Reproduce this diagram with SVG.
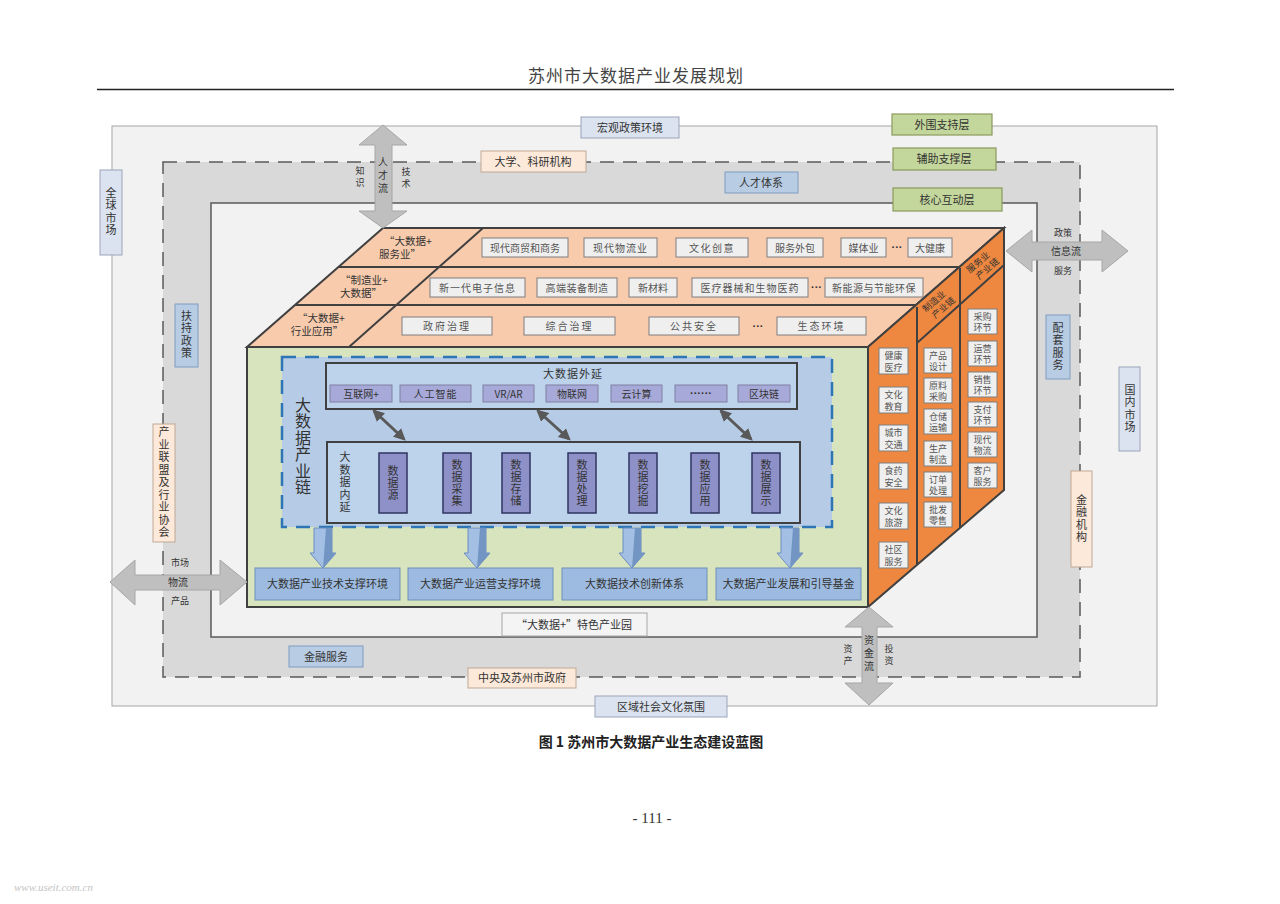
<svg xmlns="http://www.w3.org/2000/svg" width="1280" height="904" viewBox="0 0 1280 904">
<style>
text{font-family:"Noto Sans CJK SC","Noto Sans CJK JP",sans-serif;fill:#333;}
.c{text-anchor:middle;}
.s11{font-size:11px;}
.s10{font-size:10px;}
.s9{font-size:9px;}
.dots{font-family:"Liberation Sans",sans-serif;font-size:11px;font-weight:bold;}
.v{writing-mode:vertical-rl;text-anchor:middle;font-size:11px;letter-spacing:1.5px;}
.blue{fill:#b8cce4;stroke:#7f9cc0;stroke-width:1;}
.lav{fill:#dce3f0;stroke:#9aa3b8;stroke-width:1;}
.peach{fill:#fde9d9;stroke:#bfa896;stroke-width:1;}
.green{fill:#c3d69b;stroke:#8a9a5b;stroke-width:1.2;}
.gbox{fill:#efefef;stroke:#7f7f7f;stroke-width:1;}
.gtxt{fill:#555;}
.dark{stroke:#404040;stroke-width:2;}
.flow{fill:#bfbfbf;stroke:#a6a6a6;stroke-width:1;}
.ext{fill:#a7a9d8;stroke:#7f809f;stroke-width:1;}
.intr{fill:#8e90c8;stroke:#2f3560;stroke-width:1.5;}
.bot{fill:#9dbbe0;stroke:#6f8fb8;stroke-width:1;}
.barrow{fill:#a3c0e4;stroke:#6c8ebf;stroke-width:1;}
.bshade{fill:#7295c4;}
.dbl{stroke:#595959;stroke-width:3;fill:none;marker-start:url(#ah);marker-end:url(#ah);}
</style>
<defs>
<marker id="ah" viewBox="0 0 10 10" refX="8" refY="5" markerWidth="4" markerHeight="4" orient="auto-start-reverse" markerUnits="strokeWidth">
<path d="M0,0 L10,5 L0,10 Z" fill="#595959"/>
</marker>
</defs>
<rect width="1280" height="904" fill="#ffffff"/>

<g id="header">
<text x="636" y="82" class="c" style="font-size:17px;letter-spacing:1px;fill:#444">苏州市大数据产业发展规划</text>
<line x1="97" y1="89.5" x2="1174" y2="89.5" stroke="#222" stroke-width="1.5"/>
</g>

<g id="layers">
<rect x="112" y="126" width="1045" height="580" fill="#f2f2f2" stroke="#a6a6a6" stroke-width="1"/>
<rect x="163" y="162" width="917" height="515" fill="#d9d9d9" stroke="#595959" stroke-width="1.5" stroke-dasharray="14 9"/>
<rect x="211" y="203" width="826" height="434" fill="#f2f2f2" stroke="#595959" stroke-width="1.5"/>
</g>

<g id="legend">
<g id="legend-outer"><rect x="892" y="114" width="100" height="21" class="green"/><text x="942" y="129" class="c s11">外围支持层</text></g>
<g id="legend-aux"><rect x="893" y="148" width="103" height="22" class="green"/><text x="944" y="163" class="c s11">辅助支撑层</text></g>
<g id="legend-core"><rect x="893" y="188" width="109" height="23" class="green"/><text x="947" y="204" class="c s11">核心互动层</text></g>
</g>

<g id="outer-labels">
<g id="macro"><rect x="581" y="117" width="98" height="21" class="lav"/><text x="630" y="132" class="c s11">宏观政策环境</text></g>
<g id="global-market"><rect x="100" y="170" width="22" height="85" class="lav"/><text x="111" y="212" class="v">全球市场</text></g>
<g id="domestic-market"><rect x="1119" y="367" width="21" height="84" class="lav"/><text x="1130" y="409" class="v">国内市场</text></g>
<g id="regional-culture"><rect x="595" y="696" width="132" height="21" class="lav"/><text x="661" y="711" class="c s11">区域社会文化氛围</text></g>
</g>

<g id="middle-labels">
<g id="university"><rect x="481" y="151" width="105" height="21" class="peach"/><text x="533" y="166" class="c s11">大学、科研机构</text></g>
<g id="talent"><rect x="725" y="172" width="73" height="21" class="blue"/><text x="761" y="187" class="c s11">人才体系</text></g>
<g id="policy-support"><rect x="175" y="304" width="23" height="63" class="blue"/><text x="186.5" y="335" class="v">扶持政策</text></g>
<g id="supporting-service"><rect x="1046" y="315" width="24" height="64" class="blue"/><text x="1058" y="347" class="v">配套服务</text></g>
<g id="finance-service"><rect x="289" y="646" width="74" height="21" class="blue"/><text x="326" y="661" class="c s11">金融服务</text></g>
<g id="alliance"><rect x="153" y="424" width="22" height="118" class="peach"/><text x="164" y="483" class="v">产业联盟及行业协会</text></g>
<g id="finance-inst"><rect x="1071" y="471" width="21" height="96" class="peach"/><text x="1081.5" y="519" class="v">金融机构</text></g>
<g id="government"><rect x="468" y="668" width="108" height="20" class="peach"/><text x="522" y="682" class="c s11">中央及苏州市政府</text></g>
<g id="park"><rect x="502" y="613" width="145" height="23" fill="#f4f4f4" stroke="#a6a6a6" stroke-width="1"/><text x="574" y="629" class="c s11">“大数据+”特色产业园</text></g>
</g>

<g id="cube">
<polygon id="top-face" points="247,347 383,228 1004,228 868,347" fill="#f8cbad" class="dark"/>
<polygon id="right-face" points="868,347 1004,228 1004,490 868,607" fill="#ee8840" class="dark"/>
<rect id="front-face" x="247" y="347" width="621" height="260" fill="#d7e4bd" class="dark"/>
<line x1="338" y1="267" x2="959" y2="267" class="dark"/>
<line x1="295" y1="305" x2="916" y2="305" class="dark"/>
<line x1="483" y1="228" x2="349" y2="347" class="dark"/>
<line x1="917" y1="307" x2="917" y2="565" class="dark"/>
<line x1="960" y1="268" x2="960" y2="528" class="dark"/>
<line x1="917" y1="343" x2="1004" y2="265" class="dark"/>
</g>

<g id="row-labels">
<g id="row-service"><text x="408" y="245" class="c" style="font-size:10.5px">“大数据+</text><text x="400" y="258" class="c" style="font-size:10.5px">服务业”</text></g>
<g id="row-manufacture"><text x="364" y="284" class="c" style="font-size:10.5px">“制造业+</text><text x="361" y="297" class="c" style="font-size:10.5px">大数据”</text></g>
<g id="row-industry"><text x="321" y="322" class="c" style="font-size:10.5px">“大数据+</text><text x="317" y="335" class="c" style="font-size:10.5px">行业应用”</text></g>
</g>

<g id="row1-items">
<g id="r1a"><rect x="482" y="238" width="86" height="19" class="gbox"/><text x="525" y="251.5" class="c s10 gtxt">现代商贸和商务</text></g>
<g id="r1b"><rect x="584" y="238" width="73" height="19" class="gbox"/><text x="620.5" y="251.5" class="c s10 gtxt" style="letter-spacing:1px">现代物流业</text></g>
<g id="r1c"><rect x="676" y="238" width="72" height="19" class="gbox"/><text x="712" y="251.5" class="c s10 gtxt" style="letter-spacing:1.5px">文化创意</text></g>
<g id="r1d"><rect x="767" y="238" width="56" height="19" class="gbox"/><text x="795" y="251.5" class="c s10 gtxt">服务外包</text></g>
<g id="r1e"><rect x="841" y="238" width="45" height="19" class="gbox"/><text x="863.5" y="251.5" class="c s10 gtxt">媒体业</text></g>
<text x="897" y="251" class="c dots">···</text>
<g id="r1f"><rect x="908" y="238" width="44" height="19" class="gbox"/><text x="930" y="251.5" class="c s10 gtxt">大健康</text></g>
</g>

<g id="row2-items">
<g id="r2a"><rect x="430" y="278" width="95" height="19" class="gbox"/><text x="477.5" y="291.5" class="c s10 gtxt" style="letter-spacing:1px">新一代电子信息</text></g>
<g id="r2b"><rect x="537" y="278" width="80" height="19" class="gbox"/><text x="577" y="291.5" class="c s10 gtxt" style="letter-spacing:0.5px">高端装备制造</text></g>
<g id="r2c"><rect x="629" y="278" width="48" height="19" class="gbox"/><text x="653" y="291.5" class="c s10 gtxt">新材料</text></g>
<g id="r2d"><rect x="692" y="278" width="116" height="19" class="gbox"/><text x="750" y="291.5" class="c s10 gtxt" style="letter-spacing:1px">医疗器械和生物医药</text></g>
<text x="816.5" y="291" class="c dots">···</text>
<g id="r2e"><rect x="825" y="278" width="98" height="19" class="gbox"/><text x="874" y="291.5" class="c s10 gtxt" style="letter-spacing:0.5px">新能源与节能环保</text></g>
</g>

<g id="row3-items">
<g id="r3a"><rect x="402" y="317" width="90" height="18" class="gbox"/><text x="447" y="330" class="c s10 gtxt" style="letter-spacing:2px">政府治理</text></g>
<g id="r3b"><rect x="524" y="317" width="91" height="18" class="gbox"/><text x="569.5" y="330" class="c s10 gtxt" style="letter-spacing:2px">综合治理</text></g>
<g id="r3c"><rect x="649" y="317" width="90" height="18" class="gbox"/><text x="694" y="330" class="c s10 gtxt" style="letter-spacing:2px">公共安全</text></g>
<text x="758" y="330" class="c dots">···</text>
<g id="r3d"><rect x="777" y="317" width="89" height="18" class="gbox"/><text x="821.5" y="330" class="c s10 gtxt" style="letter-spacing:2px">生态环境</text></g>
</g>

<g id="chain-labels">
<g id="mfg-chain" transform="translate(938,306) rotate(-41)"><text x="0" y="-3" class="c s9">制造业</text><text x="3" y="8" class="c s9">产业链</text></g>
<g id="svc-chain" transform="translate(982,267) rotate(-41)"><text x="0" y="-3" class="c s9">服务业</text><text x="3" y="8" class="c s9">产业链</text></g>
</g>

<g id="strip1-items">
<g><rect x="879" y="348" width="29" height="26" class="gbox"/><text x="893.5" y="359" class="c s9 gtxt">健康</text><text x="893.5" y="371" class="c s9 gtxt">医疗</text></g>
<g><rect x="879" y="387" width="29" height="26" class="gbox"/><text x="893.5" y="398" class="c s9 gtxt">文化</text><text x="893.5" y="410" class="c s9 gtxt">教育</text></g>
<g><rect x="879" y="425" width="29" height="26" class="gbox"/><text x="893.5" y="436" class="c s9 gtxt">城市</text><text x="893.5" y="448" class="c s9 gtxt">交通</text></g>
<g><rect x="879" y="463" width="29" height="26" class="gbox"/><text x="893.5" y="474" class="c s9 gtxt">食药</text><text x="893.5" y="486" class="c s9 gtxt">安全</text></g>
<g><rect x="879" y="503" width="29" height="26" class="gbox"/><text x="893.5" y="514" class="c s9 gtxt">文化</text><text x="893.5" y="526" class="c s9 gtxt">旅游</text></g>
<g><rect x="879" y="542" width="29" height="26" class="gbox"/><text x="893.5" y="553" class="c s9 gtxt">社区</text><text x="893.5" y="565" class="c s9 gtxt">服务</text></g>
</g>

<g id="strip2-items">
<g><rect x="924" y="348" width="28" height="25" class="gbox"/><text x="938" y="358.5" class="c s9 gtxt">产品</text><text x="938" y="370" class="c s9 gtxt">设计</text></g>
<g><rect x="924" y="378" width="28" height="25" class="gbox"/><text x="938" y="388.5" class="c s9 gtxt">原料</text><text x="938" y="400" class="c s9 gtxt">采购</text></g>
<g><rect x="924" y="409" width="28" height="25" class="gbox"/><text x="938" y="419.5" class="c s9 gtxt">仓储</text><text x="938" y="431" class="c s9 gtxt">运输</text></g>
<g><rect x="924" y="441" width="28" height="25" class="gbox"/><text x="938" y="451.5" class="c s9 gtxt">生产</text><text x="938" y="463" class="c s9 gtxt">制造</text></g>
<g><rect x="924" y="472" width="28" height="25" class="gbox"/><text x="938" y="482.5" class="c s9 gtxt">订单</text><text x="938" y="494" class="c s9 gtxt">处理</text></g>
<g><rect x="924" y="502" width="28" height="25" class="gbox"/><text x="938" y="512.5" class="c s9 gtxt">批发</text><text x="938" y="524" class="c s9 gtxt">零售</text></g>
</g>

<g id="strip3-items">
<g><rect x="968" y="309" width="29" height="25" class="gbox"/><text x="982.5" y="319.5" class="c s9 gtxt">采购</text><text x="982.5" y="331" class="c s9 gtxt">环节</text></g>
<g><rect x="968" y="341" width="29" height="25" class="gbox"/><text x="982.5" y="351.5" class="c s9 gtxt">运营</text><text x="982.5" y="363" class="c s9 gtxt">环节</text></g>
<g><rect x="968" y="372" width="29" height="25" class="gbox"/><text x="982.5" y="382.5" class="c s9 gtxt">销售</text><text x="982.5" y="394" class="c s9 gtxt">环节</text></g>
<g><rect x="968" y="402" width="29" height="25" class="gbox"/><text x="982.5" y="412.5" class="c s9 gtxt">支付</text><text x="982.5" y="424" class="c s9 gtxt">环节</text></g>
<g><rect x="968" y="432" width="29" height="25" class="gbox"/><text x="982.5" y="442.5" class="c s9 gtxt">现代</text><text x="982.5" y="454" class="c s9 gtxt">物流</text></g>
<g><rect x="968" y="463" width="29" height="25" class="gbox"/><text x="982.5" y="473.5" class="c s9 gtxt">客户</text><text x="982.5" y="485" class="c s9 gtxt">服务</text></g>
</g>

<g id="chain">
<rect x="282" y="357" width="550" height="170" fill="#b6cce6" stroke="#2e75b6" stroke-width="2.5" stroke-dasharray="14 9"/>
<text x="303" y="446" class="v" style="font-size:16px;letter-spacing:0.5px;">大数据产业链</text>
</g>

<g id="extension">
<rect x="326" y="363" width="471" height="46" fill="#bdd3ec" class="dark"/>
<text x="573" y="378" class="c s11" style="letter-spacing:1px">大数据外延</text>
<g><rect x="330" y="385" width="62" height="17" class="ext"/><text x="361" y="397.5" class="c s10">互联网+</text></g>
<g><rect x="400" y="385" width="71" height="17" class="ext"/><text x="435.5" y="397.5" class="c s10" style="letter-spacing:1px">人工智能</text></g>
<g><rect x="483" y="385" width="51" height="17" class="ext"/><text x="508.5" y="397.5" class="c s10">VR/AR</text></g>
<g><rect x="546" y="385" width="52" height="17" class="ext"/><text x="572" y="397.5" class="c s10">物联网</text></g>
<g><rect x="611" y="385" width="51" height="17" class="ext"/><text x="636.5" y="397.5" class="c s10">云计算</text></g>
<g><rect x="675" y="385" width="52" height="17" class="ext"/><text x="701" y="396.5" class="c dots">······</text></g>
<g><rect x="738" y="385" width="52" height="17" class="ext"/><text x="764" y="397.5" class="c s10">区块链</text></g>
</g>

<g id="intension">
<rect x="327" y="442" width="473" height="81" fill="#bdd3ec" class="dark"/>
<text x="345" y="483" class="v">大数据内延</text>
<g><rect x="379" y="453" width="28" height="60" class="intr"/><text x="393" y="483" class="v" style="letter-spacing:1px">数据源</text></g>
<g><rect x="443" y="453" width="28" height="60" class="intr"/><text x="457" y="483" class="v" style="letter-spacing:1px">数据采集</text></g>
<g><rect x="502" y="453" width="28" height="60" class="intr"/><text x="516" y="483" class="v" style="letter-spacing:1px">数据存储</text></g>
<g><rect x="568" y="453" width="28" height="60" class="intr"/><text x="582" y="483" class="v" style="letter-spacing:1px">数据处理</text></g>
<g><rect x="629" y="453" width="28" height="60" class="intr"/><text x="643" y="483" class="v" style="letter-spacing:1px">数据挖掘</text></g>
<g><rect x="691" y="453" width="28" height="60" class="intr"/><text x="705" y="483" class="v" style="letter-spacing:1px">数据应用</text></g>
<g><rect x="752" y="453" width="28" height="60" class="intr"/><text x="766" y="483" class="v" style="letter-spacing:1px">数据展示</text></g>
</g>

<g id="support-boxes">
<g><rect x="255" y="568" width="145" height="32" class="bot"/><text x="327.5" y="588" class="c s11">大数据产业技术支撑环境</text></g>
<g><rect x="408" y="568" width="145" height="32" class="bot"/><text x="480.5" y="588" class="c s11">大数据产业运营支撑环境</text></g>
<g><rect x="562" y="568" width="145" height="32" class="bot"/><text x="634.5" y="588" class="c s11">大数据技术创新体系</text></g>
<g><rect x="716" y="568" width="145" height="32" class="bot"/><text x="788.5" y="588" class="c s11">大数据产业发展和引导基金</text></g>
</g>

<g id="connectors">
<line x1="374" y1="411" x2="404" y2="439" class="dbl"/>
<line x1="538" y1="411" x2="569" y2="439" class="dbl"/>
<line x1="721" y1="411" x2="751" y2="439" class="dbl"/>
<g id="block-arrows">
<path d="M314,528 L332,528 L332,553 L336,553 L323,568 L310,553 L314,553 Z" class="barrow"/>
<path d="M326,528 L332,528 L332,553 L336,553 L323,568 Z" class="bshade"/>
<path d="M468,528 L486,528 L486,553 L490,553 L477,568 L464,553 L468,553 Z" class="barrow"/>
<path d="M480,528 L486,528 L486,553 L490,553 L477,568 Z" class="bshade"/>
<path d="M623,528 L641,528 L641,553 L645,553 L632,568 L619,553 L623,553 Z" class="barrow"/>
<path d="M635,528 L641,528 L641,553 L645,553 L632,568 Z" class="bshade"/>
<path d="M781,528 L799,528 L799,553 L803,553 L790,568 L777,553 L781,553 Z" class="barrow"/>
<path d="M793,528 L799,528 L799,553 L803,553 L790,568 Z" class="bshade"/>
</g>
<g id="talent-flow">
<path d="M383,125 L407,145 L392,145 L392,211 L407,211 L383,228 L359,211 L375,211 L375,145 L359,145 Z" class="flow"/>
<text x="383" y="166" class="c s10">人</text><text x="383" y="179" class="c s10">才</text><text x="383" y="192" class="c s10">流</text>
<text x="360" y="174" class="c s9">知</text><text x="360" y="186" class="c s9">识</text>
<text x="406" y="175" class="c s9">技</text><text x="406" y="187" class="c s9">术</text>
</g>
<g id="info-flow">
<path d="M1006,251 L1032,230 L1032,242 L1102,242 L1102,230 L1128,251 L1102,272 L1102,260 L1032,260 L1032,272 Z" class="flow"/>
<text x="1063" y="236" class="c s9">政策</text>
<text x="1066" y="255" class="c s10">信息流</text>
<text x="1063" y="274" class="c s9">服务</text>
</g>
<g id="logistics-flow">
<path d="M110,582 L135,560 L135,575 L220,575 L220,560 L247,582 L220,605 L220,590 L135,590 L135,605 Z" class="flow"/>
<text x="180" y="566" class="c s9">市场</text>
<text x="178" y="586" class="c s10">物流</text>
<text x="180" y="604" class="c s9">产品</text>
</g>
<g id="capital-flow">
<path d="M869,607 L893,627 L877,627 L877,683 L893,683 L869,705 L845,683 L862,683 L862,627 L845,627 Z" class="flow"/>
<text x="869" y="644" class="c s10">资</text><text x="869" y="657" class="c s10">金</text><text x="869" y="670" class="c s10">流</text>
<text x="848" y="652" class="c s9">资</text><text x="848" y="664" class="c s9">产</text>
<text x="889" y="652" class="c s9">投</text><text x="889" y="664" class="c s9">资</text>
</g>
</g>

<g id="caption">
<text x="651" y="747" class="c" style="font-size:14px;font-weight:bold;fill:#222">图 1 苏州市大数据产业生态建设蓝图</text>
<text x="652" y="823" class="c" style="font-family:'Liberation Serif',serif;font-size:15px;fill:#333">- 111 -</text>
<text x="14" y="891" style="font-family:'Liberation Serif',serif;font-size:11px;font-style:italic;fill:#c4c4c4">www.useit.com.cn</text>
</g>
</svg>
